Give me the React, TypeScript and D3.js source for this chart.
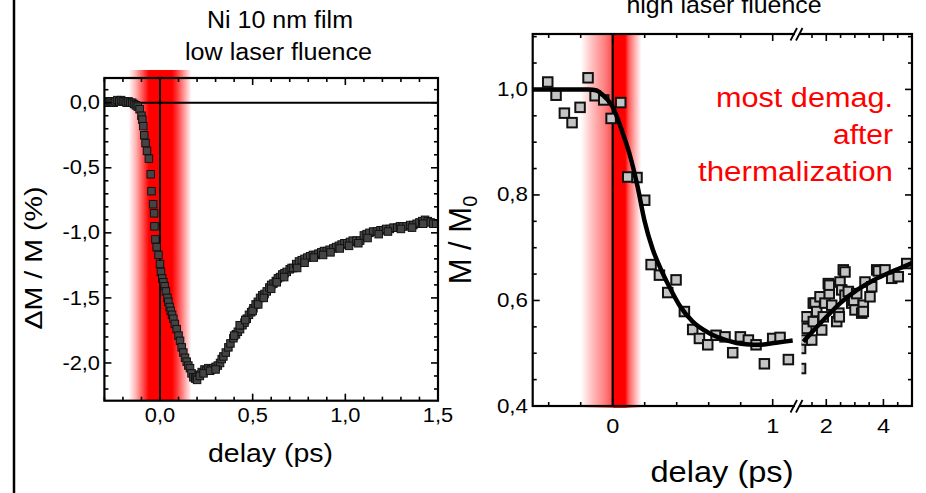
import React from 'react';
import * as d3 from 'd3';

// ---------- data ----------
const leftDelay = [
  -0.30, -0.29, -0.28, -0.27, -0.26, -0.25, -0.24, -0.23, -0.22, -0.21, -0.20, -0.19, -0.18, -0.17, -0.16, -0.15, -0.14, -0.13,
  -0.12, -0.11, -0.10, -0.095, -0.09, -0.085, -0.078, -0.07, -0.06, -0.05, -0.046, -0.037, -0.032, -0.03, -0.025, -0.018, -0.008,
  0.0, 0.005, 0.012, 0.018, 0.025, 0.032, 0.04, 0.045, 0.052, 0.058, 0.065, 0.072, 0.08, 0.09, 0.10, 0.108, 0.117, 0.126, 0.135,
  0.144, 0.153, 0.162, 0.17, 0.18, 0.19, 0.198, 0.21, 0.225, 0.24, 0.25, 0.261, 0.275, 0.288, 0.30, 0.312, 0.324, 0.333, 0.342,
  0.355, 0.369, 0.38, 0.396, 0.41, 0.42, 0.432, 0.445, 0.456, 0.468, 0.48, 0.492, 0.504, 0.516, 0.528, 0.54, 0.552, 0.564, 0.576,
  0.59, 0.60, 0.612, 0.625, 0.636, 0.648, 0.66, 0.672, 0.684, 0.70, 0.71, 0.72, 0.735, 0.75, 0.765, 0.78, 0.795, 0.81, 0.825,
  0.84, 0.855, 0.87, 0.885, 0.90, 0.915, 0.935, 0.95, 0.965, 0.98, 0.995, 1.01, 1.025, 1.04, 1.06, 1.08, 1.10, 1.115, 1.13, 1.15,
  1.17, 1.19, 1.205, 1.22, 1.24, 1.26, 1.28, 1.295, 1.31, 1.33, 1.35, 1.367, 1.385, 1.40, 1.415, 1.43, 1.445, 1.46, 1.475, 1.49,
  // second scan (overlapping)
  0.20, 0.215, 0.235, 0.27, 0.30, 0.40, 0.43, 0.46, 0.50, 0.53, 0.56, 0.60, 0.63, 0.67, 0.74, 0.78, 0.83, 0.88, 0.92, 0.97,
  1.02, 1.07, 1.12, 1.18, 1.23, 1.30, 1.36, 1.42,
];
const leftDM = [
  0.0, 0.01, 0.0, 0.01, 0.01, 0.0, 0.01, 0.02, 0.01, 0.02, 0.01, 0.01, 0.0, 0.01, 0.0, 0.0, -0.01, -0.02,
  -0.03, -0.05, -0.10, -0.13, -0.18, -0.25, -0.31, -0.37, -0.43, -0.55, -0.68, -0.78, -0.85, -0.95, -1.05, -1.11, -1.17,
  -1.24, -1.30, -1.35, -1.38, -1.41, -1.45, -1.50, -1.53, -1.57, -1.60, -1.63, -1.66, -1.70, -1.74, -1.79, -1.83, -1.88, -1.92, -1.96,
  -1.99, -2.02, -2.04, -2.08, -2.11, -2.12, -2.11, -2.09, -2.07, -2.05, -2.06, -2.04, -2.05, -2.04, -2.03, -2.02, -2.00, -1.97, -1.95,
  -1.92, -1.88, -1.85, -1.81, -1.78, -1.76, -1.74, -1.71, -1.69, -1.66, -1.63, -1.61, -1.58, -1.55, -1.53, -1.50, -1.48, -1.47, -1.45,
  -1.42, -1.40, -1.39, -1.37, -1.35, -1.34, -1.32, -1.31, -1.30, -1.28, -1.27, -1.27, -1.24, -1.22, -1.21, -1.20, -1.19, -1.18, -1.17,
  -1.17, -1.16, -1.15, -1.14, -1.14, -1.13, -1.12, -1.11, -1.10, -1.09, -1.08, -1.08, -1.07, -1.06, -1.06, -1.06, -1.02, -1.01, -1.00, -0.99,
  -0.99, -0.98, -0.98, -0.97, -0.97, -0.96, -0.96, -0.95, -0.95, -0.95, -0.94, -0.94, -0.93, -0.92, -0.91, -0.90, -0.91, -0.92, -0.93, -0.93,
  -2.13, -2.10, -2.08, -2.06, -2.05, -1.79, -1.71, -1.67, -1.60, -1.55, -1.50, -1.43, -1.38, -1.34, -1.27, -1.23, -1.19, -1.17, -1.15, -1.12,
  -1.10, -1.08, -1.04, -1.01, -0.99, -0.97, -0.96, -0.93,
];

// right panel, linear part before the axis break
const rightDelayA = [-0.406, -0.354, -0.302, -0.254, -0.204, -0.154, -0.11, -0.056, -0.01, 0.05, 0.094, 0.152, 0.2, 0.24, 0.292, 0.344,
  0.396, 0.448, 0.5, 0.542, 0.594, 0.646, 0.702, 0.75, 0.798, 0.848, 0.896, 0.948, 1.0, 1.046, 1.098];
const rightMA = [1.014, 0.989, 0.955, 0.937, 0.966, 1.022, 0.988, 0.98, 0.945, 0.975, 0.834, 0.833, 0.79, 0.668, 0.648, 0.615,
  0.639, 0.579, 0.545, 0.528, 0.516, 0.534, 0.531, 0.501, 0.531, 0.525, 0.516, 0.48, 0.528, 0.53, 0.488];
// right panel, part after the axis break
const rightDelayB = [1.10, 1.10, 1.255, 1.255, 1.315, 1.315, 1.49, 1.545, 1.545, 1.605, 1.665, 1.78, 1.84, 1.895, 1.955, 2.07, 2.105,
  2.105, 2.19, 2.365, 2.44, 2.455, 2.48, 2.54, 2.595, 2.655, 2.655, 2.77, 2.89, 2.96, 3.005, 3.065, 3.24, 3.295, 3.295, 3.355, 3.53,
  3.59, 3.765, 3.82, 4.055, 4.29, 4.52, 4.815];
const rightMB = [0.471, 0.509, 0.525, 0.569, 0.547, 0.569, 0.525, 0.56, 0.595, 0.595, 0.579, 0.607, 0.544, 0.569, 0.595, 0.632, 0.613,
  0.629, 0.591, 0.56, 0.576, 0.569, 0.635, 0.62, 0.658, 0.61, 0.654, 0.617, 0.595, 0.6, 0.582, 0.613, 0.576, 0.591, 0.579, 0.635, 0.607,
  0.626, 0.658, 0.656, 0.658, 0.642, 0.645, 0.67];

// fit curves
const fitDelayA = [-0.5, -0.3, -0.15, -0.1, -0.08, -0.04, 0.0, 0.063, 0.104, 0.156, 0.198, 0.25, 0.3, 0.354, 0.417, 0.5, 0.604,
  0.708, 0.833, 0.917, 1.021, 1.125];
const fitMA = [1.0, 1.0, 1.0, 0.998, 0.994, 0.983, 0.967, 0.917, 0.879, 0.815, 0.752, 0.697, 0.66, 0.626, 0.591, 0.56, 0.538,
  0.525, 0.517, 0.516, 0.52, 0.524];
const fitDelayB = [1.2, 1.5, 1.9, 2.49, 3.08, 3.67, 4.26, 4.84, 5.0];
const fitMB = [0.522, 0.54, 0.563, 0.595, 0.62, 0.639, 0.654, 0.667, 0.671];

// tick labels
const leftXTicks = [0, 0.5, 1.0, 1.5];
const leftXLabels = ['0,0', '0,5', '1,0', '1,5'];
const leftYTicks = [0, -0.5, -1.0, -1.5, -2.0];
const leftYLabels = ['0,0', '-0,5', '-1,0', '-1,5', '-2,0'];
const rightYTicks = [0.4, 0.6, 0.8, 1.0];
const rightYLabels = ['0,4', '0,6', '0,8', '1,0'];
const rightXTicksA = [0, 1];
const rightXLabelsA = ['0', '1'];
const rightXTicksB = [2, 4];
const rightXLabelsB = ['2', '4'];

// pump pulse bands (delay, opacity)
const leftBandT = [-0.17, -0.13, -0.09, -0.06, 0.065, 0.09, 0.13, 0.17];
const leftBandO = [0, 0.3, 0.7, 1, 1, 0.8, 0.4, 0];
const rightBandT = [-0.2, -0.13, -0.05, 0.0, 0.01, 0.078, 0.1, 0.14, 0.18];
const rightBandO = [0, 0.25, 0.5, 0.7, 1, 1, 0.65, 0.3, 0];

const FONT = '"Liberation Sans", Arial, Helvetica, sans-serif';

function Txt(props: { x: number; y: number; size: number; anchor: string; sx?: number; children: React.ReactNode; fill?: string }) {
  const sx = props.sx ?? 1.12;
  return (
    <text transform={`translate(${props.x},${props.y}) scale(${sx},1)`} fontSize={props.size} textAnchor={props.anchor}
      fill={props.fill ?? '#000'}>
      {props.children}
    </text>
  );
}

export default function App() {
  // left panel scales
  const xL = d3.scaleLinear().domain([-0.3, 1.5]).range([104.4, 438]);
  const yL = d3.scaleLinear().domain([-2.29, 0.19]).range([400.7, 78]);
  // right panel scales (broken axis)
  const xRA = d3.scaleLinear().domain([-0.5, 1.165]).range([532.7, 799.1]);
  const xRB = d3.scaleLinear().domain([1.08, 5]).range([800, 912]);
  const yR = d3.scaleLinear().domain([0.4, 1.105]).range([406, 34]);

  const L = { l: xL.range()[0], r: xL.range()[1], t: yL.range()[1], b: yL.range()[0] };
  const R = { l: 532.7, r: 912, t: 34, b: 406 };
  const brk = 797.5;

  const lineA = d3.line<number>().x((d, i) => xRA(fitDelayA[i])).y((d) => yR(d)).curve(d3.curveMonotoneX);
  const lineB = d3.line<number>().x((d, i) => xRB(fitDelayB[i])).y((d) => yR(d)).curve(d3.curveMonotoneX);

  const leftXMinor = d3.range(-3, 16).map((k) => k / 10);
  const leftYMinor = d3.range(-22, 2).map((k) => k / 10);
  const rightYMinor = d3.range(9, 23).map((k) => k / 20);
  const rightXMinorA = d3.range(-2, 6).map((k) => k / 5);
  const rightXMinorB = d3.range(3, 10).map((k) => k / 2);

  const isMajor = (v: number, step: number) => Math.abs(v / step - Math.round(v / step)) < 1e-6;

  const tickStroke = { stroke: '#000', strokeWidth: 1.6 };

  const xTicks = (scale: (v: number) => number, vals: number[], yb: number, yt: number, majorFn: (v: number) => boolean, key: string) =>
    vals.map((v, i) => {
      const x = scale(v);
      const len = majorFn(v) ? 7 : 4;
      return (
        <g key={key + i}>
          <line x1={x} x2={x} y1={yb} y2={yb - len} {...tickStroke} />
          <line x1={x} x2={x} y1={yt} y2={yt + len} {...tickStroke} />
        </g>
      );
    });
  const yTicks = (scale: (v: number) => number, vals: number[], xl: number, xr: number, majorFn: (v: number) => boolean, key: string) =>
    vals.map((v, i) => {
      const y = scale(v);
      const len = majorFn(v) ? 7 : 4;
      return (
        <g key={key + i}>
          <line x1={xl} x2={xl + len} y1={y} y2={y} {...tickStroke} />
          <line x1={xr} x2={xr - len} y1={y} y2={y} {...tickStroke} />
        </g>
      );
    });

  const lx0 = xL(leftBandT[0]);
  const lx1 = xL(leftBandT[leftBandT.length - 1]);
  const rx0 = xRA(rightBandT[0]);
  const rx1 = xRA(rightBandT[rightBandT.length - 1]);

  const sqL = 7.5;
  const sqR = 9.5;

  return (
    <svg width={926} height={493} style={{ position: 'absolute', left: 0, top: 0, background: '#fff' }} fontFamily={FONT}>
      <defs>
        <linearGradient id="bandL" gradientUnits="userSpaceOnUse" x1={lx0} x2={lx1} y1={0} y2={0}>
          {leftBandT.map((t, i) => (
            <stop key={i} offset={(xL(t) - lx0) / (lx1 - lx0)} stopColor="#ff0000" stopOpacity={leftBandO[i]} />
          ))}
        </linearGradient>
        <linearGradient id="bandR" gradientUnits="userSpaceOnUse" x1={rx0} x2={rx1} y1={0} y2={0}>
          {rightBandT.map((t, i) => (
            <stop key={i} offset={(xRA(t) - rx0) / (rx1 - rx0)} stopColor="#ff0000" stopOpacity={rightBandO[i]} />
          ))}
        </linearGradient>
        <clipPath id="clipL">
          <rect x={L.l} y={L.t - 10} width={L.r - L.l} height={L.b - L.t + 10} />
        </clipPath>
        <clipPath id="clipRA">
          <rect x={R.l} y={R.t} width={brk - R.l + 2} height={R.b - R.t} />
        </clipPath>
        <clipPath id="clipRB">
          <rect x={801.5} y={R.t} width={R.r - 801.5} height={R.b - R.t} />
        </clipPath>
      </defs>

      {/* page border line on the left */}
      <line x1={14} x2={14} y1={0} y2={493} stroke="#000" strokeWidth={2.5} />

      {/* ================= LEFT PANEL ================= */}
      <rect x={lx0} y={70} width={lx1 - lx0} height={L.b - 70} fill="url(#bandL)" />
      <g clipPath="url(#clipL)">
        <line x1={L.l} x2={L.r} y1={yL(0)} y2={yL(0)} stroke="#000" strokeWidth={2} />
        <line x1={xL(0)} x2={xL(0)} y1={L.t} y2={L.b} stroke="#000" strokeWidth={2} />
        {leftDM.map((v, i) => (
          <rect key={i} x={xL(leftDelay[i]) - sqL / 2} y={yL(v) - sqL / 2} width={sqL} height={sqL}
            fill="#444" stroke="#111" strokeWidth={1} />
        ))}
      </g>
      <rect x={L.l} y={L.t} width={L.r - L.l} height={L.b - L.t} fill="none" stroke="#000" strokeWidth={2.2} />
      {xTicks(xL, leftXMinor, L.b, L.t, (v) => isMajor(v, 0.5), 'lx')}
      {yTicks(yL, leftYMinor, L.l, L.r, (v) => isMajor(v, 0.5), 'ly')}
      {leftXTicks.map((v, i) => (
        <Txt key={i} x={xL(v)} y={421.7} size={19.5} anchor="middle">{leftXLabels[i]}</Txt>
      ))}
      {leftYTicks.map((v, i) => (
        <Txt key={i} x={100} y={yL(v) + 6.6} size={19.5} anchor="end">{leftYLabels[i]}</Txt>
      ))}
      <text x={280} y={28.3} fontSize={23} textAnchor="middle" textLength={146} lengthAdjust="spacingAndGlyphs">Ni 10 nm film</text>
      <text x={278.5} y={59.5} fontSize={23} textAnchor="middle" textLength={187} lengthAdjust="spacingAndGlyphs">low laser fluence</text>
      <text x={270.5} y={461.7} fontSize={25.5} textAnchor="middle" textLength={125} lengthAdjust="spacingAndGlyphs">delay (ps)</text>
      <text transform="translate(42,258) rotate(-90)" fontSize={23} textAnchor="middle" textLength={143} lengthAdjust="spacingAndGlyphs">ΔM / M (%)</text>

      {/* ================= RIGHT PANEL ================= */}
      <rect x={rx0} y={R.t} width={rx1 - rx0} height={R.b - R.t + 2} fill="url(#bandR)" />
      <line x1={xRA(0)} x2={xRA(0)} y1={R.t} y2={R.b} stroke="#000" strokeWidth={2.2} />
      <g clipPath="url(#clipRA)">
        {rightMA.map((v, i) => (
          <rect key={i} x={xRA(rightDelayA[i]) - sqR / 2} y={yR(v) - sqR / 2} width={sqR} height={sqR}
            fill="#c4c4c4" stroke="#111" strokeWidth={2} />
        ))}
        <path d={lineA(fitMA) || ''} fill="none" stroke="#000" strokeWidth={4.5} />
      </g>
      <g clipPath="url(#clipRB)">
        {rightMB.map((v, i) => (
          <rect key={i} x={xRB(rightDelayB[i]) - sqR / 2} y={yR(v) - sqR / 2} width={sqR} height={sqR}
            fill="#c4c4c4" stroke="#111" strokeWidth={2} />
        ))}
        <path d={lineB(fitMB) || ''} fill="none" stroke="#000" strokeWidth={4.5} />
      </g>
      <rect x={R.l} y={R.t} width={R.r - R.l} height={R.b - R.t} fill="none" stroke="#000" strokeWidth={2.2} />
      {xTicks(xRA, rightXMinorA, R.b, R.t, (v) => isMajor(v, 1), 'rxa')}
      {xTicks(xRB, rightXMinorB, R.b, R.t, (v) => v === 2 || v === 4, 'rxb')}
      {yTicks(yR, rightYMinor, R.l, R.r, (v) => isMajor(v, 0.2), 'ry')}
      {/* axis breaks */}
      {[R.b, R.t].map((yy, i) => (
        <g key={'brk' + i}>
          <rect x={brk - 2.5} y={yy - 2} width={5} height={4} fill="#fff" />
          <line x1={brk - 7} x2={brk - 0.5} y1={yy + 6.5} y2={yy - 6} stroke="#000" strokeWidth={1.8} />
          <line x1={brk - 1.5} x2={brk + 5} y1={yy + 6.5} y2={yy - 6} stroke="#000" strokeWidth={1.8} />
        </g>
      ))}
      {rightYTicks.map((v, i) => (
        <Txt key={i} x={528} y={yR(v) + 6.5} size={20} anchor="end">{rightYLabels[i]}</Txt>
      ))}
      {rightXTicksA.map((v, i) => (
        <Txt key={i} x={xRA(v)} y={433} size={21} anchor="middle">{rightXLabelsA[i]}</Txt>
      ))}
      {rightXTicksB.map((v, i) => (
        <Txt key={i} x={xRB(v)} y={433} size={21} anchor="middle">{rightXLabelsB[i]}</Txt>
      ))}
      <text x={724} y={13.3} fontSize={24} textAnchor="middle" textLength={195} lengthAdjust="spacingAndGlyphs">high laser fluence</text>
      <text x={722} y={481.7} fontSize={29} textAnchor="middle" textLength={143} lengthAdjust="spacingAndGlyphs">delay (ps)</text>
      <text transform="translate(471,240) rotate(-90)" fontSize={31} textAnchor="middle">
        M / M<tspan fontSize={20} dy={6}>0</tspan>
      </text>
      <g fill="#ff0000" fontSize={27} textAnchor="end">
        <text x={893} y={106.7} textLength={177} lengthAdjust="spacingAndGlyphs">most demag.</text>
        <text x={893} y={144} textLength={60} lengthAdjust="spacingAndGlyphs">after</text>
        <text x={893} y={180.5} textLength={195} lengthAdjust="spacingAndGlyphs">thermalization</text>
      </g>
    </svg>
  );
}
